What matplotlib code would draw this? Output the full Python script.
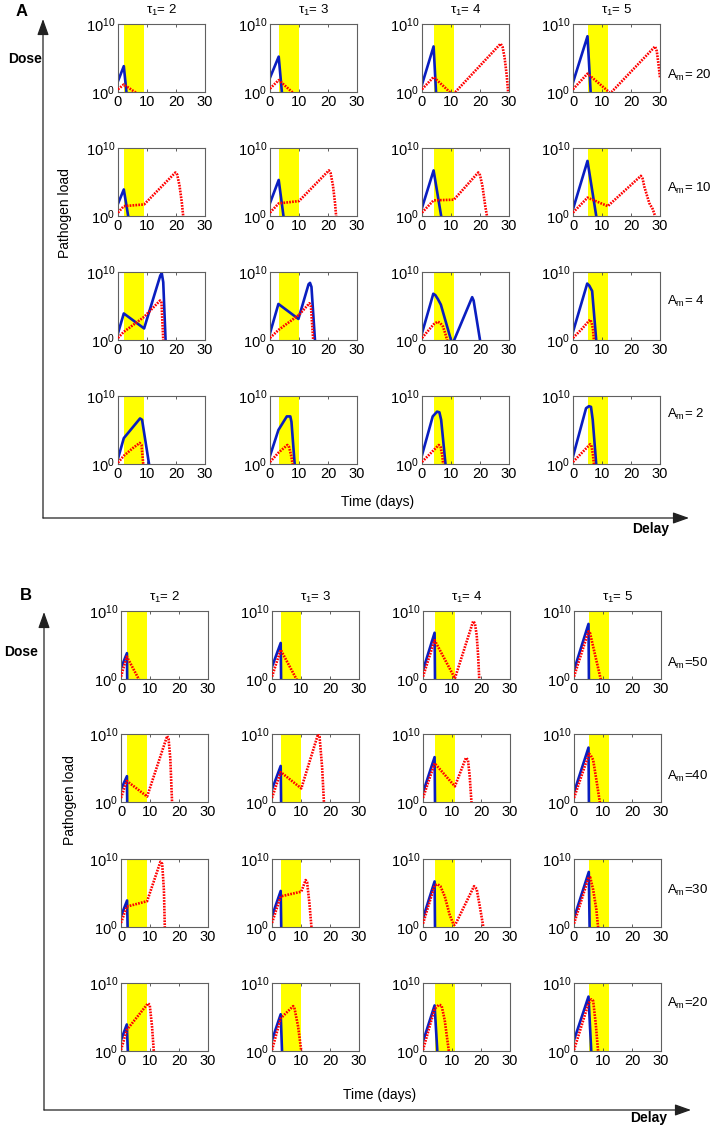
import numpy as np
import matplotlib
matplotlib.use("Agg")
import matplotlib.pyplot as plt

plt.rcParams['font.family'] = ['Liberation Sans', 'DejaVu Sans']
plt.rcParams['mathtext.fontset'] = 'custom'
plt.rcParams['mathtext.rm'] = 'Liberation Sans'
plt.rcParams['mathtext.it'] = 'Liberation Sans:italic'
plt.rcParams['mathtext.bf'] = 'Liberation Sans:bold'

# Data: rows = dose (top to bottom), cols = delay tau1
tau1 = [2, 3, 4, 5]
window = 7  # yellow treatment window length (days)
a_doses = [20, 10, 4, 2]
b_doses = [50, 40, 30, 20]

# each entry: (time in days, log10 pathogen load)
a_blue = [
    [([0, 2, 3.0], [1.6, 3.8, -0.4]),
     ([0, 3, 4.2], [2.1, 5.2, -0.5]),
     ([0, 4, 4.9], [1.1, 6.7, -0.5]),
     ([0, 5, 6.15], [1.4, 8.2, -0.5])],
    [([0, 2, 3.7], [1.8, 3.9, -0.5]),
     ([0, 3, 4.8], [1.9, 5.3, -0.5]),
     ([0, 4, 6.8], [1.2, 6.7, -0.5]),
     ([0, 5, 8.2], [1.0, 8.1, -0.5])],
    [([0, 2, 9, 14.6, 15.1, 15.6, 16.4, 16.6], [1.0, 3.9, 1.7, 9.5, 9.8, 8.5, 0, -1]),
     ([0, 2.9, 9.8, 13.3, 13.8, 14.3, 15.5, 15.7], [1.0, 5.3, 3.1, 8.2, 8.4, 7.8, 0, -1]),
     ([0, 3.9, 4.6, 5.5, 6.5, 10, 10.5, 11.1, 17.3, 17.8, 20, 20.3],
      [1.0, 6.8, 6.6, 6.0, 5.2, 0, -0.4, 0, 6.3, 5.8, 0, -0.7]),
     ([0, 4.9, 5.6, 6.6, 8.0, 8.15], [1.2, 8.3, 8.0, 7.2, 0, -0.7])],
    [([0, 2, 7.6, 8.3, 10.7, 10.9], [0.8, 3.8, 6.7, 6.5, 0, -0.6]),
     ([0, 2.9, 5.8, 7.0, 7.4, 8.5, 8.7], [1.2, 5.0, 7.0, 7.0, 6.2, 0, -0.6]),
     ([0, 3.7, 5.2, 6.0, 6.6, 8.1, 8.25], [1.3, 7.0, 7.7, 7.6, 6.5, 0, -0.6]),
     ([0, 4.5, 5.5, 6.2, 6.8, 8.0, 8.15], [1.1, 8.2, 8.5, 8.4, 6.5, 0, -0.6])],
]
a_red = [
    [([0, 2, 6.5], [0.4, 1.1, -0.2]),
     ([0, 3, 8], [0.5, 1.75, -0.15]),
     ([0, 4, 10.6, 11.5, 27.1, 27.8, 28.5, 29.2, 29.7, 30], [0.4, 2.2, -0.4, 0, 7.1, 6.6, 5.0, 2.5, 0, -1]),
     ([0, 5, 12.7, 13.3, 28.3, 28.9, 29.5, 30], [0.4, 2.7, -0.1, 0, 6.7, 6.0, 4.0, 2.1])],
    [([0, 2, 9, 19.8, 20.4, 21.2, 22.0, 22.6], [0.5, 1.45, 1.7, 6.4, 6.1, 4.5, 2.0, -0.5]),
     ([0, 3, 10, 20.3, 20.9, 21.7, 22.4, 22.9], [0.5, 1.85, 2.2, 6.7, 6.3, 4.5, 2.0, -0.5]),
     ([0, 4, 11, 19.4, 20.0, 20.8, 21.8, 22.6], [0.5, 2.3, 2.4, 6.4, 6.0, 4.5, 1.5, -0.5]),
     ([0, 5, 12, 23.4, 24.0, 24.6, 26.3, 27.5, 28.3, 28.6], [0.5, 2.7, 1.45, 5.9, 5.5, 4.3, 1.9, 1.0, 0, -0.5])],
    [([0, 2, 9, 14.5, 15.0, 15.6, 15.8], [0.3, 1.2, 3.4, 5.8, 5.5, 0, -1]),
     ([0, 3, 10, 13.6, 14.1, 14.9, 15.1], [0.3, 1.5, 3.7, 5.4, 5.0, 0, -1]),
     ([0, 2, 4, 5.4, 6.3, 7.2, 8.0, 8.65, 8.9], [0.3, 1.3, 2.3, 2.7, 2.5, 2.0, 1.0, 0, -0.5]),
     ([0, 3, 5.9, 6.4, 6.9, 7.2, 7.3], [0.3, 1.6, 3.0, 2.6, 1.5, 0, -0.5])],
    [([0, 2, 5, 7.5, 8.1, 8.7, 8.9], [0.2, 1.2, 2.3, 3.1, 2.8, 0, -0.5]),
     ([0, 3, 6, 6.6, 7.3, 7.8, 8.0], [0.3, 1.7, 2.8, 2.5, 1.2, 0, -0.5]),
     ([0, 5.8, 6.4, 7.0, 7.3, 7.5], [0.3, 2.8, 2.5, 1.2, 0, -0.5]),
     ([0, 5.9, 6.4, 6.9, 7.2, 7.4], [0.3, 2.9, 2.6, 1.3, 0, -0.5])],
]
b_blue = [
    [([0, 2.05, 2.15], [1.6, 3.8, -0.5]),
     ([0, 3.0, 3.15], [1.8, 5.3, -0.5]),
     ([0, 4.0, 4.15], [1.3, 6.8, -0.5]),
     ([0, 5.0, 5.15], [1.3, 8.1, -0.5])],
    [([0, 2.05, 2.15], [1.85, 3.8, -0.5]),
     ([0, 3.0, 3.15], [1.85, 5.3, -0.5]),
     ([0, 4.0, 4.15], [1.4, 6.6, -0.5]),
     ([0, 5.0, 5.15], [1.4, 8.0, -0.5])],
    [([0, 2.1, 2.3], [1.6, 3.9, -0.5]),
     ([0, 3.0, 3.2], [1.6, 5.3, -0.5]),
     ([0, 4.0, 4.15], [1.3, 6.7, -0.5]),
     ([0, 5.1, 5.4], [1.3, 8.1, -0.5])],
    [([0, 2.0, 2.4], [1.6, 3.9, -0.5]),
     ([0, 3.0, 3.5], [1.6, 5.4, -0.5]),
     ([0, 4.0, 5.0], [1.4, 6.7, -0.5]),
     ([0, 5.0, 6.0], [1.6, 8.0, -0.5])],
]
b_red = [
    [([0, 2, 6.1, 6.4], [0.35, 3.3, 0, -0.25]),
     ([0, 3, 8.4, 8.7], [0.35, 4.3, 0, -0.25]),
     ([0, 4, 11.0, 17.3, 17.9, 18.5, 19.0, 19.4, 19.5], [0.35, 5.7, 0.1, 8.5, 8.2, 6.5, 3.5, 0, -0.5]),
     ([0, 5, 5.5, 9.2, 9.4], [0.35, 7.0, 6.8, 0, -0.4])],
    [([0, 2, 9, 15.9, 16.4, 17.0, 17.6, 17.8], [0.6, 3.1, 0.8, 9.7, 9.3, 6.4, 0, -0.5]),
     ([0, 3, 10.1, 15.9, 16.4, 17.3, 17.9, 18.1], [0.6, 4.4, 2.0, 10.0, 9.6, 5.0, 0, -0.5]),
     ([0, 4, 11, 14.8, 15.5, 16.1, 16.7, 16.9], [0.6, 5.7, 2.3, 6.5, 6.2, 3.8, 0, -0.5]),
     ([0, 5.2, 5.7, 6.6, 7.7, 8.9, 9.1], [0.6, 7.1, 6.9, 6.2, 3.3, 0, -0.5])],
    [([0, 2, 9, 13.6, 14.2, 14.8, 15.1, 15.3], [0.6, 3.0, 3.8, 9.6, 9.3, 5.4, 0, -0.5]),
     ([0, 3, 10.1, 11.6, 12.1, 12.9, 13.6, 13.8], [0.6, 4.5, 5.2, 6.9, 6.6, 3.5, 0, -0.5]),
     ([0, 4, 5, 6, 7.5, 9.2, 10.4, 10.8, 11.3, 17.6, 18.5, 19.6, 20.8, 21.0],
      [0.5, 6.1, 6.3, 6.0, 4.5, 1.8, 0.5, 0.3, 0.5, 6.0, 5.6, 3.0, 0, -0.4]),
     ([0, 5, 5.6, 6.6, 7.7, 8.3, 8.5], [0.5, 7.2, 7.3, 5.5, 2.6, 0, -0.5])],
    [([0, 2, 9.3, 9.9, 10.7, 11.3, 11.5], [0.15, 3.1, 7.0, 6.8, 3.6, 0, -0.5]),
     ([0, 3, 7.3, 7.8, 9.0, 10.1, 10.3], [0.15, 4.8, 6.6, 6.2, 3.6, 0, -0.5]),
     ([0, 4, 5.5, 6.4, 7.5, 8.9, 9.1], [0.15, 6.2, 6.8, 6.7, 4.5, 0, -0.5]),
     ([0, 5, 6.0, 6.6, 7.5, 8.3, 8.5], [0.15, 7.0, 7.6, 7.4, 4.0, 0, -0.5])],
]

W, H = 711, 1129
fig = plt.figure(figsize=(W / 100, H / 100), dpi=100)


def fx(x):
    return x / W


def fy(y):
    return 1 - y / H


def small_axes(left, top, w=87, h=68):
    ax = fig.add_axes([fx(left), fy(top + h), w / W, h / H])
    ax.set_yscale('log')
    ax.set_xlim(0, 30)
    ax.set_ylim(1, 1e10)
    ax.set_xticks([0, 10, 20, 30])
    ax.set_yticks([1, 1e10])
    ax.set_yticklabels(['$10^{0}$', '$10^{10}$'])
    ax.minorticks_off()
    ax.tick_params(direction='in', length=2.5, width=0.6, top=True, right=True,
                   labelsize=10.5, pad=2, colors='#444444', labelcolor='black')
    for s in ax.spines.values():
        s.set_color('#606060')
        s.set_linewidth(0.8)
    return ax


def draw_panel(blue, red, doses, lefts, tops, dose_fmt, title_y, label_ys):
    for r in range(4):
        for c in range(4):
            ax = small_axes(lefts[c], tops[r])
            ax.axvspan(tau1[c], tau1[c] + window, color='#FFFF00', lw=0, zorder=0)
            tb, yb = blue[r][c]
            tr, yr = red[r][c]
            ax.plot(tb, 10 ** np.array(yb), color='#0A1EC0', lw=1.9,
                    solid_joinstyle='round', zorder=2)
            ax.plot(tr, 10 ** np.array(yr), color='#FF0000', lw=1.9,
                    linestyle=(0, (0.65, 0.45)), zorder=3)
            if r == 0:
                fig.text(fx(lefts[c] + 43.5), fy(title_y), 'τ$_1$= %d' % tau1[c],
                         ha='center', va='center', fontsize=9.5)
        fig.text(fx(667), fy(label_ys[r]), dose_fmt % doses[r],
                 ha='left', va='center', fontsize=9.5)


def frame(x0, ytop, ybot, xright):
    kw = dict(arrowstyle='-|>,head_length=0.7,head_width=0.25', color='#222222',
              lw=0.9, shrinkA=0, shrinkB=0)
    fig.add_artist(matplotlib.patches.FancyArrowPatch(
        (fx(x0), fy(ybot)), (fx(x0), fy(ytop)), transform=fig.transFigure,
        mutation_scale=14, **kw))
    fig.add_artist(matplotlib.patches.FancyArrowPatch(
        (fx(x0), fy(ybot)), (fx(xright), fy(ybot)), transform=fig.transFigure,
        mutation_scale=14, **kw))


# Panel A
draw_panel(a_blue, a_red, a_doses, [118, 270, 422, 573], [24, 148, 272, 396],
           'A$_\\mathrm{m}$= %d', 10, [75, 188, 301, 414])
frame(43, 19, 518, 689)
fig.text(fx(22), fy(11), 'A', fontsize=12, fontweight='bold', ha='center', va='center')
fig.text(fx(25), fy(59), 'Dose', fontsize=10, fontweight='bold', ha='center', va='center')
fig.text(fx(651), fy(529), 'Delay', fontsize=10, fontweight='bold', ha='center', va='center')
fig.text(fx(65), fy(213), 'Pathogen load', fontsize=10, rotation=90, ha='center', va='center')
fig.text(fx(378), fy(502), 'Time (days)', fontsize=10, ha='center', va='center')

# Panel B
draw_panel(b_blue, b_red, b_doses, [121, 272, 423, 574], [611, 734, 859, 983],
           'A$_\\mathrm{m}$=%d', 597, [663, 776, 890, 1003])
frame(44, 612, 1110, 691)
fig.text(fx(26), fy(596), 'B', fontsize=12, fontweight='bold', ha='center', va='center')
fig.text(fx(21), fy(652), 'Dose', fontsize=10, fontweight='bold', ha='center', va='center')
fig.text(fx(649), fy(1118), 'Delay', fontsize=10, fontweight='bold', ha='center', va='center')
fig.text(fx(70), fy(800), 'Pathogen load', fontsize=10, rotation=90, ha='center', va='center')
fig.text(fx(380), fy(1095), 'Time (days)', fontsize=10, ha='center', va='center')

fig.savefig('out.png', dpi=100)
